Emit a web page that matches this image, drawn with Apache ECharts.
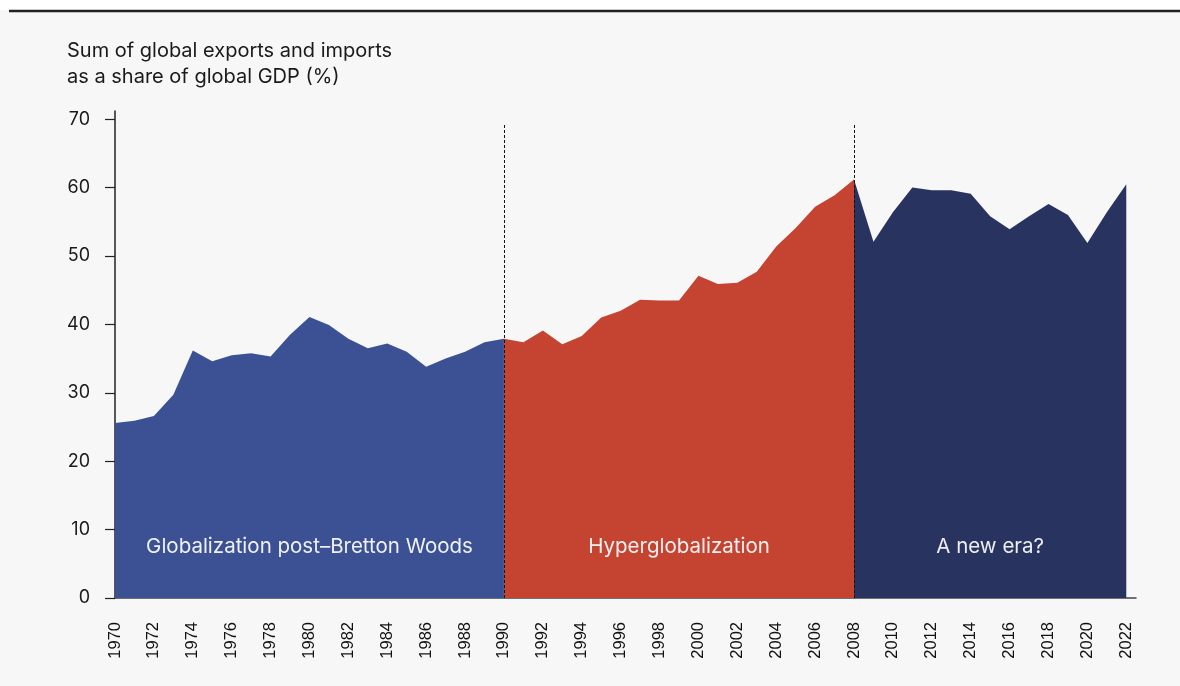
<!DOCTYPE html>
<html>
<head>
<meta charset="utf-8">
<title>Global trade share of GDP</title>
<script src="https://cdn.jsdelivr.net/npm/echarts@6/dist/echarts.min.js"></script>
<style>
  html, body { margin: 0; padding: 0; background: #fff; }
  #chart { width: 1180px; height: 686px; }
</style>
</head>
<body>
<div id="chart"></div>
<script>
// trade (exports + imports) as % of world GDP
const postBrettonYears = [1970, 1971, 1972, 1973, 1974, 1975, 1976, 1977, 1978, 1979, 1980,
  1981, 1982, 1983, 1984, 1985, 1986, 1987, 1988, 1989, 1990]
const postBrettonValues = [25.6, 25.9, 26.6, 29.7, 36.2, 34.6, 35.5, 35.8, 35.3, 38.5, 41.1,
  39.9, 37.9, 36.5, 37.2, 36.0, 33.8, 35.0, 36.0, 37.4, 37.9]

const hyperYears = [1990, 1991, 1992, 1993, 1994, 1995, 1996, 1997, 1998, 1999, 2000,
  2001, 2002, 2003, 2004, 2005, 2006, 2007, 2008]
const hyperValues = [37.9, 37.4, 39.1, 37.1, 38.3, 41.0, 42.0, 43.6, 43.5, 43.5, 47.1,
  45.9, 46.1, 47.7, 51.4, 54.1, 57.2, 58.9, 61.2]

const newEraYears = [2008, 2009, 2010, 2011, 2012, 2013, 2014, 2015, 2016, 2017, 2018,
  2019, 2020, 2021, 2022]
const newEraValues = [61.2, 52.1, 56.4, 60.0, 59.6, 59.6, 59.1, 55.8, 53.9, 55.8, 57.6,
  56.0, 51.9, 56.4, 60.5]

const eraNames = ['Globalization post–Bretton Woods', 'Hyperglobalization', 'A new era?']
const eraLabelYears = [1980, 1999, 2015]
const eraBreaks = [1990, 2008]

const yTicks = [0, 10, 20, 30, 40, 50, 60, 70]
const xTicks = []
for (let y = 1970; y <= 2022; y += 2) xTicks.push(y)

const FONT = 'Inter, "Noto Sans", sans-serif'

const zip = (xs, ys) => xs.map((x, i) => [x, ys[i]])

const eraSeries = function (name, years, values, color, labelYear, breaks) {
  const s = {
    name: name,
    type: 'line',
    data: zip(years, values),
    symbol: 'none',
    lineStyle: { width: 0, opacity: 0 },
    areaStyle: { color: color, opacity: 1 },
    silent: true,
    markPoint: {
      symbol: 'circle',
      symbolSize: 1,
      itemStyle: { color: 'rgba(0,0,0,0)' },
      silent: true,
      data: [{ coord: [labelYear, 7.5] }],
      label: {
        show: true,
        position: 'inside',
        formatter: name,
        color: 'rgba(255,255,255,0.92)',
        fontFamily: FONT,
        fontSize: 20.5
      }
    }
  }
  if (breaks) {
    s.markLine = {
      symbol: 'none',
      silent: true,
      z: 10,
      label: { show: false },
      lineStyle: { color: '#111', type: [3, 2], width: 1 },
      data: breaks.map(b => [{ coord: [b, 0] }, { coord: [b, 69.4] }])
    }
  }
  return s
}

const myChart = echarts.init(document.getElementById('chart'))

myChart.setOption({
  backgroundColor: '#f7f7f7',
  animation: false,
  graphic: [
    { type: 'rect', shape: { x: 0, y: 0, width: 1180, height: 10 }, style: { fill: '#fff' }, silent: true },
    { type: 'line', shape: { x1: 9, y1: 11, x2: 1180, y2: 11 }, style: { stroke: '#222', lineWidth: 2.5 }, silent: true },
    {
      type: 'text', left: 67, top: 38,
      style: {
        text: 'Sum of global exports and imports\nas a share of global GDP (%)',
        font: '20px ' + FONT, fill: '#1a1a1a', lineHeight: 26
      }
    }
  ],
  grid: { left: 115, right: 44, top: 111, bottom: 88 },
  xAxis: {
    type: 'value',
    min: 1970,
    max: 2022.5,
    interval: 2,
    splitLine: { show: false },
    axisTick: { show: false },
    axisLine: { lineStyle: { color: '#444', width: 1.5 } },
    axisLabel: {
      customValues: xTicks,
      formatter: v => String(v),
      rotate: 90,
      margin: 24,
      color: '#111',
      fontFamily: 'Arial, "Liberation Sans", sans-serif',
      fontSize: 16.5
    }
  },
  yAxis: {
    type: 'value',
    min: 0,
    max: 71.2,
    interval: 10,
    splitLine: { show: false },
    axisLine: { show: true, lineStyle: { color: '#222', width: 1.5 } },
    axisTick: { show: true, customValues: yTicks, length: 10, lineStyle: { color: '#222', width: 1.2 } },
    axisLabel: {
      customValues: yTicks,
      margin: 25,
      color: '#1a1a1a',
      fontFamily: FONT,
      fontSize: 18
    }
  },
  series: [
    eraSeries(eraNames[0], postBrettonYears, postBrettonValues, '#3c5193', eraLabelYears[0], null),
    eraSeries(eraNames[1], hyperYears, hyperValues, '#c44431', eraLabelYears[1], null),
    eraSeries(eraNames[2], newEraYears, newEraValues, '#283360', eraLabelYears[2], eraBreaks)
  ]
})
</script>
</body>
</html>
